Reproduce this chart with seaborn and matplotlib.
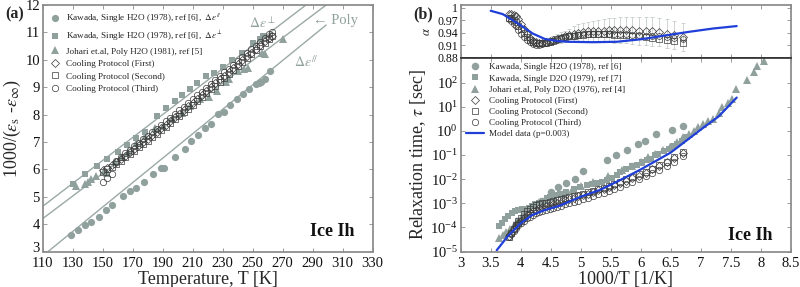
import numpy as np
import pandas as pd
import matplotlib
matplotlib.use("Agg")
import matplotlib.pyplot as plt
import matplotlib.transforms as mtransforms
import seaborn as sns

# ---------------- Panel (a) data ----------------
kaw_par_T = [129, 133.5, 138, 142.5, 147.5, 152.5, 156.5, 163.5, 168.5, 172, 177.5, 183.5, 189, 191,
             198.5, 205, 209, 213.5, 218, 222, 227, 231, 235, 239.5, 243.5, 247.5, 252, 254, 255.5, 258, 261.5]
kaw_par_y = [3.60, 3.78, 3.96, 4.09, 4.27, 4.51, 4.70, 5.02, 5.20, 5.33, 5.52, 5.82, 6.05, 6.06,
             6.46, 6.75, 7.05, 7.25, 7.50, 7.65, 8.02, 8.10, 8.35, 8.55, 8.75, 8.95, 9.13, 9.15, 9.20, 9.30, 9.58]

kaw_perp_T = [130, 138.5, 146.5, 153, 160, 166, 172, 178, 186, 192, 198, 203, 208, 213, 219, 224,
              230, 236, 243, 250, 255, 257]
kaw_perp_y = [5.47, 5.83, 6.12, 6.38, 6.65, 6.90, 7.15, 7.38, 7.95, 8.25, 8.50, 8.70, 8.92, 9.15, 9.40, 9.50,
              9.75, 10.00, 10.25, 10.60, 10.75, 10.85]

joh_T = [132.5, 138.5, 140.5, 142.5, 145.5, 151, 153, 158, 162, 167, 172, 178, 185, 190, 196, 203, 208,
         215, 221, 226, 232, 234, 240, 244, 247, 256, 258, 270]
joh_y = [5.40, 5.45, 5.55, 5.65, 5.75, 5.95, 5.85, 6.25, 6.45, 6.65, 6.95, 7.20, 7.50, 7.60, 7.85, 8.05, 8.30,
         8.55, 8.65, 8.85, 9.20, 9.30, 9.60, 9.65, 9.70, 10.25, 10.20, 10.75]

cool_T = [150, 153, 156, 159, 162, 165, 168, 171, 174, 177, 180, 183, 186, 189, 192, 195, 198, 201, 204,
          207, 210, 213, 216, 219, 222, 225, 228, 231, 234, 237, 240, 243, 246, 249, 252, 255, 258, 261, 263]
cool1_y = [5.98, 6.05, 6.15, 6.25, 6.38, 6.50, 6.62, 6.75, 6.88, 7.00, 7.12, 7.25, 7.38, 7.50, 7.63, 7.76,
           7.90, 8.03, 8.17, 8.30, 8.44, 8.58, 8.72, 8.86, 9.00, 9.14, 9.28, 9.42, 9.56, 9.70, 9.84, 9.98,
           10.12, 10.26, 10.40, 10.55, 10.68, 10.80, 10.88]
cool2_y = [5.90, 6.00, 6.10, 6.20, 6.32, 6.44, 6.56, 6.68, 6.80, 6.92, 7.04, 7.17, 7.30, 7.42, 7.55, 7.68,
           7.82, 7.95, 8.09, 8.22, 8.36, 8.50, 8.64, 8.78, 8.92, 9.06, 9.20, 9.35, 9.49, 9.64, 9.78, 9.92,
           10.06, 10.21, 10.35, 10.50, 10.63, 10.76, 10.85]
cool3_y = [5.55, 5.68, 5.82, 6.30, 6.45, 6.58, 6.71, 6.84, 6.97, 7.10, 7.23, 7.36, 7.49, 7.62, 7.75, 7.88,
           8.01, 8.15, 8.28, 8.42, 8.56, 8.70, 8.84, 8.98, 9.12, 9.26, 9.40, 9.54, 9.68, 9.82, 9.96, 10.10,
           10.24, 10.38, 10.52, 10.66, 10.80, 10.94, 11.02]

perp_line_T = [110, 285.5]
perp_line_y = [4.65, 12.0]
poly_line_T = [110, 299]
poly_line_y = [4.20, 12.0]
par_line_T = [113.6, 299]
par_line_y = [3.00, 11.27]

# ---------------- Panel (b) data ----------------
kaw6_x = [4.35, 4.50, 4.62, 4.75, 4.90, 5.03, 5.43, 5.58, 5.77, 5.95, 6.07, 6.26, 6.52, 6.70]
kaw6_logtau = [-2.90, -2.55, -2.32, -2.18, -2.00, -1.68, -1.22, -1.02, -0.80, -0.55, -0.42, -0.15, 0.02, 0.22]

kaw7_x = [3.63, 3.69, 3.74, 3.79, 3.85, 3.90, 3.96, 4.02, 4.07, 4.13, 4.18, 4.24, 4.30, 4.37, 4.43, 4.49,
          4.57, 4.65, 4.76, 4.88, 4.99, 5.10, 5.19, 5.27, 5.35, 5.43, 5.52, 5.60, 5.66, 5.75, 5.85, 5.93,
          6.02, 6.10, 6.17, 6.24, 6.29, 6.38, 6.47, 6.54, 6.60, 6.68, 6.77]
kaw7_logtau = [-3.95, -3.80, -3.65, -3.52, -3.40, -3.33, -3.29, -3.25, -3.22, -3.18, -3.12, -3.05, -2.98,
               -2.90, -2.80, -2.74, -2.67, -2.60, -2.52, -2.43, -2.33, -2.25, -2.22, -2.18, -2.10, -2.05,
               -1.95, -1.84, -1.70, -1.60, -1.47, -1.40, -1.29, -1.20, -1.15, -1.02, -0.94, -0.85, -0.75,
               -0.62, -0.53, -0.40, -0.26]

joh4_x = [3.63, 3.70, 3.76, 3.82, 3.88, 3.94, 4.00, 4.06, 4.12, 4.20, 4.30, 4.42, 4.55, 4.70, 4.85, 5.00,
          5.20, 5.45, 5.68, 5.85, 6.00, 6.12, 6.24, 6.37, 6.49, 6.60, 6.71, 6.80, 6.88, 6.96, 7.04, 7.12,
          7.21, 7.30, 7.35, 7.45, 7.52, 7.58, 7.77, 7.88, 7.94, 8.05]
joh4_logtau = [-4.45, -4.33, -4.20, -4.05, -3.90, -3.75, -3.60, -3.42, -3.25, -3.08, -2.95, -2.85, -2.75,
               -2.60, -2.45, -2.30, -2.10, -1.85, -1.63, -1.45, -1.29, -1.10, -0.94, -0.80, -0.67, -0.45,
               -0.26, -0.12, 0.00, 0.15, 0.30, 0.40, 0.50, 0.75, 0.98, 1.15, 1.33, 1.72, 2.10, 2.45, 2.68, 2.90]

cool_x = [3.80, 3.84, 3.88, 3.92, 3.96, 4.00, 4.05, 4.10, 4.15, 4.20, 4.25, 4.30, 4.36, 4.42, 4.48, 4.54,
          4.60, 4.67, 4.74, 4.81, 4.88, 4.96, 5.04, 5.12, 5.20, 5.29, 5.38, 5.47, 5.56, 5.66, 5.76, 5.86,
          5.97, 6.08, 6.19, 6.31, 6.43, 6.56, 6.70]
cool1_logtau = [-4.35, -4.22, -4.08, -3.95, -3.83, -3.72, -3.60, -3.49, -3.40, -3.32, -3.26, -3.20, -3.15,
                -3.10, -3.06, -3.02, -2.98, -2.93, -2.88, -2.83, -2.78, -2.72, -2.66, -2.60, -2.54, -2.47,
                -2.40, -2.32, -2.24, -2.15, -2.06, -1.96, -1.85, -1.73, -1.60, -1.46, -1.30, -1.12, -0.90]
cool2_logtau = [-4.38, -4.22, -4.05, -3.90, -3.75, -3.60, -3.45, -3.33, -3.22, -3.14, -3.08, -3.03, -3.00,
                -2.97, -2.94, -2.91, -2.88, -2.84, -2.80, -2.76, -2.71, -2.66, -2.60, -2.54, -2.48, -2.42,
                -2.35, -2.27, -2.19, -2.10, -2.01, -1.91, -1.80, -1.69, -1.56, -1.43, -1.28, -1.10, -0.88]
cool3_logtau = [-4.40, -4.28, -4.15, -4.03, -3.92, -3.82, -3.72, -3.63, -3.55, -3.48, -3.42, -3.37, -3.32,
                -3.27, -3.23, -3.19, -3.15, -3.10, -3.05, -3.00, -2.95, -2.89, -2.83, -2.77, -2.70, -2.63,
                -2.56, -2.48, -2.40, -2.31, -2.22, -2.11, -2.00, -1.88, -1.75, -1.61, -1.45, -1.27, -1.05]

cool1_alpha = [0.985, 0.986, 0.984, 0.980, 0.972, 0.962, 0.950, 0.938, 0.928, 0.921, 0.917, 0.915, 0.915,
               0.917, 0.919, 0.922, 0.925, 0.928, 0.931, 0.934, 0.937, 0.940, 0.942, 0.943, 0.944, 0.945,
               0.945, 0.946, 0.946, 0.946, 0.946, 0.946, 0.945, 0.944, 0.943, 0.941, 0.938, 0.934, 0.929]
cool2_alpha = [0.976, 0.975, 0.971, 0.965, 0.957, 0.948, 0.939, 0.930, 0.923, 0.918, 0.915, 0.914, 0.914,
               0.916, 0.918, 0.921, 0.924, 0.927, 0.929, 0.931, 0.933, 0.935, 0.935, 0.936, 0.936, 0.936,
               0.936, 0.936, 0.935, 0.935, 0.934, 0.933, 0.931, 0.929, 0.927, 0.925, 0.922, 0.919, 0.915]
cool3_alpha = [0.972, 0.968, 0.962, 0.955, 0.946, 0.938, 0.930, 0.923, 0.917, 0.913, 0.911, 0.911, 0.912,
               0.914, 0.917, 0.920, 0.923, 0.926, 0.929, 0.931, 0.933, 0.935, 0.936, 0.937, 0.937, 0.937,
               0.937, 0.937, 0.937, 0.937, 0.936, 0.935, 0.934, 0.933, 0.932, 0.931, 0.930, 0.928, 0.925]
alpha_err = [0.004, 0.004, 0.004, 0.004, 0.004, 0.005, 0.005, 0.005, 0.005, 0.005, 0.006, 0.006, 0.007,
             0.008, 0.009, 0.010, 0.011, 0.013, 0.014, 0.016, 0.018, 0.020, 0.021, 0.023, 0.025, 0.026,
             0.028, 0.029, 0.030, 0.031, 0.032, 0.033, 0.034, 0.034, 0.034, 0.034, 0.034, 0.034, 0.034]

model_tau_x = [3.60, 3.77, 3.99, 4.18, 4.38, 4.65, 5.00, 5.32, 5.65, 6.00, 6.50, 7.00, 7.30, 7.60]
model_logtau = [-4.95, -4.41, -3.85, -3.50, -3.30, -3.10, -2.73, -2.45, -2.05, -1.60, -0.90, 0.05, 0.60, 1.38]
model_alpha_x = [3.50, 3.70, 3.90, 4.00, 4.20, 4.40, 4.60, 4.80, 5.20, 5.60, 6.00, 6.40, 6.80, 7.20, 7.60]
model_alpha = [0.993, 0.985, 0.967, 0.958, 0.938, 0.925, 0.920, 0.918, 0.917, 0.918, 0.924, 0.933, 0.942,
               0.950, 0.956]

# ---------------- style ----------------
sns.set_theme(style="ticks")
plt.rcParams["font.family"] = ["Liberation Serif", "DejaVu Serif"]
plt.rcParams["mathtext.fontset"] = "stix"
plt.rcParams["axes.edgecolor"] = "#8a8a8a"
plt.rcParams["xtick.color"] = "#8a8a8a"
plt.rcParams["ytick.color"] = "#8a8a8a"
plt.rcParams["xtick.labelcolor"] = "#111111"
plt.rcParams["ytick.labelcolor"] = "#111111"

GRAY = "#8fa09d"
LINEG = "#9aa9a6"
BLUE = "#1f3fd8"
OPEN_EDGE = "#3a3a3a"

fig = plt.figure(figsize=(8, 2.87), dpi=100)
W, H = 800.0, 287.0


def rect(x0, y0, x1, y1):
    return [x0 / W, (H - y1) / H, (x1 - x0) / W, (y1 - y0) / H]


ax_a = fig.add_axes(rect(42.7, 5, 372.7, 251.5))
ax_bt = fig.add_axes(rect(460.7, 5, 790.7, 57.5))
ax_bb = fig.add_axes(rect(460.7, 57.5, 790.7, 251.5))


def pts(ax, x, y, marker, ms, filled, label=None, mew=0.5):
    df = pd.DataFrame({"x": x, "y": y})
    if filled:
        sns.lineplot(data=df, x="x", y="y", ax=ax, linestyle="", marker=marker, markersize=ms,
                     color=GRAY, markeredgecolor=GRAY, markeredgewidth=0, sort=False, estimator=None,
                     label=label)
    else:
        sns.lineplot(data=df, x="x", y="y", ax=ax, linestyle="", marker=marker, markersize=ms,
                     color="k", markerfacecolor="none", markeredgecolor=OPEN_EDGE, markeredgewidth=mew,
                     sort=False, estimator=None, label=label)


# ---------------- Panel (a) ----------------
for lx, ly in [(perp_line_T, perp_line_y), (poly_line_T, poly_line_y), (par_line_T, par_line_y)]:
    sns.lineplot(x=lx, y=ly, ax=ax_a, color=LINEG, lw=1.0, sort=False, estimator=None)

pts(ax_a, kaw_par_T, kaw_par_y, "o", 5.2, True, r"Kawada, Single H2O (1978), ref [6],  $\Delta\varepsilon^{//}$")
pts(ax_a, kaw_perp_T, kaw_perp_y, "s", 4.4, True, r"Kawada, Single H2O (1978), ref [6],  $\Delta\varepsilon^{\perp}$")
pts(ax_a, joh_T, joh_y, "^", 5.6, True, "Johari et.al, Poly H2O (1981), ref [5]")
pts(ax_a, cool_T, cool1_y, "D", 3.8, False, "Cooling Protocol (First)")
pts(ax_a, cool_T, cool2_y, "s", 4.0, False, "Cooling Protocol (Second)")
pts(ax_a, cool_T, cool3_y, "o", 4.6, False, "Cooling Protocol (Third)")

ax_a.set_xlim(110, 330)
ax_a.set_ylim(3, 12)
ax_a.set_xticks(range(110, 331, 20))
ax_a.set_yticks(range(3, 13))
ax_a.tick_params(direction="in", length=3, width=0.6, labelsize=10.5, top=True, right=True, pad=2)
ax_a.tick_params(axis="x", pad=4)
ax_a.set_xlabel("Temperature, T [K]", fontsize=13, labelpad=0.5)
ax_a.set_ylabel(r"1000/($\varepsilon_{\rm s}$ -$\varepsilon_{\infty}$)", fontsize=13, labelpad=2)
# nudge the lowest y tick label up slightly so it does not collide with the first x tick label
fig.canvas.draw()
shift = mtransforms.ScaledTranslation(0, 3 / 72, fig.dpi_scale_trans)
ylabs = ax_a.get_yticklabels()
ylabs[0].set_transform(ylabs[0].get_transform() + shift)

leg = ax_a.legend(loc="upper left", fontsize=6.6, frameon=False, handletextpad=0.6, borderaxespad=0.3,
                  labelspacing=0.45, handlelength=1.2, bbox_to_anchor=(0.0, 1.0))
for t in leg.get_texts():
    t.set_color("#222222")

ax_a.text(256.5, 11.35, r"$\Delta\varepsilon^{\perp}$", color=GRAY, fontsize=10, ha="center", va="center")
ax_a.text(305, 11.45, "\u2190 Poly", color=GRAY, fontsize=10.5, ha="center", va="center")
ax_a.text(286, 9.93, r"$\Delta\varepsilon^{//}$", color=GRAY, fontsize=10, ha="center", va="center")
ax_a.text(0.945, 0.08, "Ice Ih", transform=ax_a.transAxes, ha="right", va="center",
          fontsize=13, fontweight="bold", color="#111111")

# ---------------- Panel (b) top: alpha ----------------
ax_bt.errorbar(cool_x, cool1_alpha, yerr=alpha_err, fmt="none", ecolor="#c5cdcb", elinewidth=0.6,
               capsize=1.6, capthick=0.6, zorder=1)
pts(ax_bt, cool_x, cool1_alpha, "D", 3.6, False)
pts(ax_bt, cool_x, cool2_alpha, "s", 3.8, False)
pts(ax_bt, cool_x, cool3_alpha, "o", 4.2, False)
sns.lineplot(x=model_alpha_x, y=model_alpha, ax=ax_bt, color=BLUE, lw=1.6, sort=False, estimator=None)
ax_bt.set_xlim(3, 8.5)
ax_bt.set_ylim(0.88, 1.007)
ax_bt.set_xticks(np.arange(3, 8.51, 0.5))
ax_bt.set_xticklabels([])
ax_bt.set_yticks([0.88, 0.91, 0.94, 0.97, 1.0])
ax_bt.set_yticklabels(["0.88", "0.91", "0.94", "0.97", "1"])
ax_bt.tick_params(direction="in", length=3, width=0.6, labelsize=8.5, top=True, right=True, pad=2)
ax_bt.set_xlabel("")
ax_bt.set_ylabel(r"$\alpha$", fontsize=9, labelpad=3)
if ax_bt.get_legend():
    ax_bt.get_legend().remove()
ax_bt.spines["bottom"].set_color("#333333")

# ---------------- Panel (b) bottom: tau ----------------
pts(ax_bb, kaw6_x, [10 ** v for v in kaw6_logtau], "o", 5.4, True, "Kawada, Single H2O (1978), ref [6]")
pts(ax_bb, kaw7_x, [10 ** v for v in kaw7_logtau], "s", 4.4, True, "Kawada, Single D2O (1979), ref [7]")
pts(ax_bb, joh4_x, [10 ** v for v in joh4_logtau], "^", 5.6, True, "Johari et.al, Poly D2O (1976), ref [4]")
pts(ax_bb, cool_x, [10 ** v for v in cool1_logtau], "D", 3.8, False, "Cooling Protocol (First)")
pts(ax_bb, cool_x, [10 ** v for v in cool2_logtau], "s", 4.0, False, "Cooling Protocol (Second)")
pts(ax_bb, cool_x, [10 ** v for v in cool3_logtau], "o", 4.6, False, "Cooling Protocol (Third)")
sns.lineplot(x=model_tau_x, y=[10 ** v for v in model_logtau], ax=ax_bb, color=BLUE, lw=1.6,
             sort=False, estimator=None, label="Model data (p=0.003)")
ax_bb.set_yscale("log")
ax_bb.set_xlim(3, 8.5)
ax_bb.set_ylim(1e-5, 1.1e3)
ax_bb.set_xticks(np.arange(3, 8.51, 0.5))
ax_bb.set_xticklabels(["3", "3.5", "4", "4.5", "5", "5.5", "6", "6.5", "7", "7.5", "8", "8.5"])
ax_bb.set_yticks([1e-5, 1e-4, 1e-3, 1e-2, 1e-1, 1e0, 1e1, 1e2])
ax_bb.tick_params(direction="in", length=3, width=0.6, labelsize=10.5, top=True, right=True, pad=2)
ax_bb.tick_params(axis="x", pad=4)
ax_bb.tick_params(which="minor", direction="in", length=1.5, width=0.5, right=True, left=True)
ax_bb.set_xlabel("1000/T [1/K]", fontsize=13, labelpad=0.5)
ax_bb.set_ylabel(r"Relaxation time, $\tau$ [sec]", fontsize=13, labelpad=2)
ax_bb.spines["top"].set_color("#333333")
legb = ax_bb.legend(loc="upper left", fontsize=6.6, frameon=False, handletextpad=0.6, borderaxespad=0.2,
                    labelspacing=0.3, handlelength=1.9, bbox_to_anchor=(0.0, 1.0))
for t in legb.get_texts():
    t.set_color("#222222")
ax_bb.text(0.945, 0.085, "Ice Ih", transform=ax_bb.transAxes, ha="right", va="center",
           fontsize=13, fontweight="bold", color="#111111")

fig.text(5 / W, 1 - 14 / H, "(a)", fontsize=11.5, fontweight="bold", ha="left", va="center")
fig.text(413 / W, 1 - 14 / H, "(b)", fontsize=11.5, fontweight="bold", ha="left", va="center")

fig.savefig("out.png", dpi=100)
